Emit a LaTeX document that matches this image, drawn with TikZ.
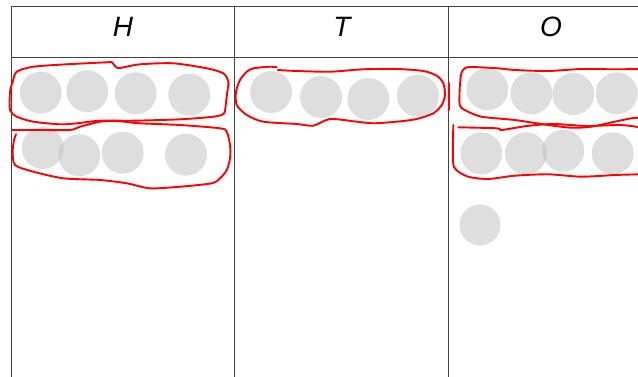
\documentclass[tikz,border=0pt]{standalone}
\usepackage{fontspec}
\setmainfont{Liberation Sans}
\definecolor{counterfill}{RGB}{189,189,189}
\begin{document}
\begin{tikzpicture}[x=1pt,y=-1pt,
  grid/.style={line width=0.8pt, draw=black!75},
  counter/.style={circle, minimum size=42pt, inner sep=0pt, fill=counterfill, fill opacity=0.5},
  loopline/.style={draw=red, line width=1.9pt, line join=round, line cap=round},
  head/.style={font=\fontsize{28}{30}\selectfont\itshape, inner sep=0pt}]
\useasboundingbox (0,0) rectangle (638,377);
% table
\draw[grid] (11,377) -- (11,6) -- (638,6);
\draw[grid] (11,57) -- (638,57);
\draw[grid] (234,6) -- (234,377);
\draw[grid] (448,6) -- (448,377);
% headers
\node[head] (hH) at (123,27) {H};
\node[head] (hT) at (342,27) {T};
\node[head] (hO) at (551,27) {O};
% counters H
\node[counter] (h1) at (40.7,92.7) {};
\node[counter] (h2) at (87.3,91.3) {};
\node[counter] (h3) at (135.7,93.3) {};
\node[counter] (h4) at (189.3,94.7) {};
\node[counter] (h5) at (42.7,148) {};
\node[counter] (h6) at (79.3,155.3) {};
\node[counter] (h7) at (122.7,152.7) {};
\node[counter] (h8) at (186,154.7) {};
% counters T
\node[counter] (t1) at (271,92) {};
\node[counter] (t2) at (321,97) {};
\node[counter] (t3) at (368.3,99) {};
\node[counter] (t4) at (418,95.7) {};
% counters O
\node[counter] (o1) at (487.3,89.3) {};
\node[counter] (o2) at (531.3,93.3) {};
\node[counter] (o3) at (573.3,94) {};
\node[counter] (o4) at (616.7,93.3) {};
\node[counter] (o5) at (481.3,153.3) {};
\node[counter] (o6) at (526,153.3) {};
\node[counter] (o7) at (563.3,150.7) {};
\node[counter] (o8) at (612.7,153.3) {};
\node[counter, minimum size=41pt] (o9) at (480,225) {};
% red loops H
\draw[loopline] plot[smooth cycle, tension=0.45] coordinates {
 (16.7,71.7) (33.3,66.7) (66.7,64.3) (106.7,62.3) (111.7,62.3) (116.7,67.7) (121.7,67.7)
 (140,64.3) (173.3,63.3) (206.7,68.3) (223.3,73.3) (228.3,81.7) (227.3,91.7) (226,101.7)
 (224,113.3) (213.3,116.7) (180,119.3) (133.3,120.7) (100,120.7) (76.7,123.3) (60,124.3)
 (33.3,121.7) (16.7,116.7) (10,110) (10,91.7) (12.7,81.7)};
\draw[loopline] plot[smooth, tension=0.45] coordinates {
 (11.7,130) (40,130) (70,130) (80,126.7) (100,121.7) (116.7,121) (140,123.3) (180,125)
 (220,128.3) (226.7,131.7) (230,145) (230,158.3) (226.7,170) (220,178.3) (211.7,183.3)
 (180,186.7) (150,188.3) (126.7,183.3) (100,180) (63.3,178.3) (33.3,171.7) (15,165)
 (12.7,151.7) (14,140) (16,134.3)};
% red loop T
\draw[loopline] plot[smooth, tension=0.45] coordinates {
 (277.7,70) (296.7,71) (330,71.7) (363.3,69.3) (396.7,69) (423.3,71) (436.7,75.7)
 (443.3,83.3) (445,95) (441.7,105) (433.3,113.3) (416.7,119) (396.7,121.7) (373.3,123.3)
 (356.7,121.7) (330,119) (313.3,125.7) (296.7,124) (263.3,121.7) (246.7,115) (236.7,105)
 (236,91.7) (240,80) (246.7,71.7) (253.3,68.3) (270,66.7) (276.7,67.3)};
\draw[loopline] (448.8,83) -- (449,110);
% red loops O
\draw[loopline] plot[smooth, tension=0.45] coordinates {
 (640,69) (614.7,69.3) (581.3,69) (548,71) (514.7,70) (498,68.3) (471.3,67) (464.7,68.3)
 (461.3,73.3) (459.7,88.3) (459.7,105) (464.7,110) (481.3,116.7) (514.7,120) (548,125)
 (571.3,127.7) (591.3,126.7) (614.7,121.7) (631.3,118.3) (640,117.7)};
\draw[loopline] plot[smooth, tension=0.45] coordinates {
 (458.3,127.3) (496.7,128.3) (501.7,130) (526.7,126) (553.3,124) (586.7,126) (620,125) (640,127.3)};
\draw[loopline] plot[smooth, tension=0.45] coordinates {
 (453.3,125) (453,161.7) (456.3,170) (468,176.7) (488,179) (514.7,175.7) (548,174.3)
 (581.3,176.7) (614.7,175) (640,174.3)};
\end{tikzpicture}
\end{document}
